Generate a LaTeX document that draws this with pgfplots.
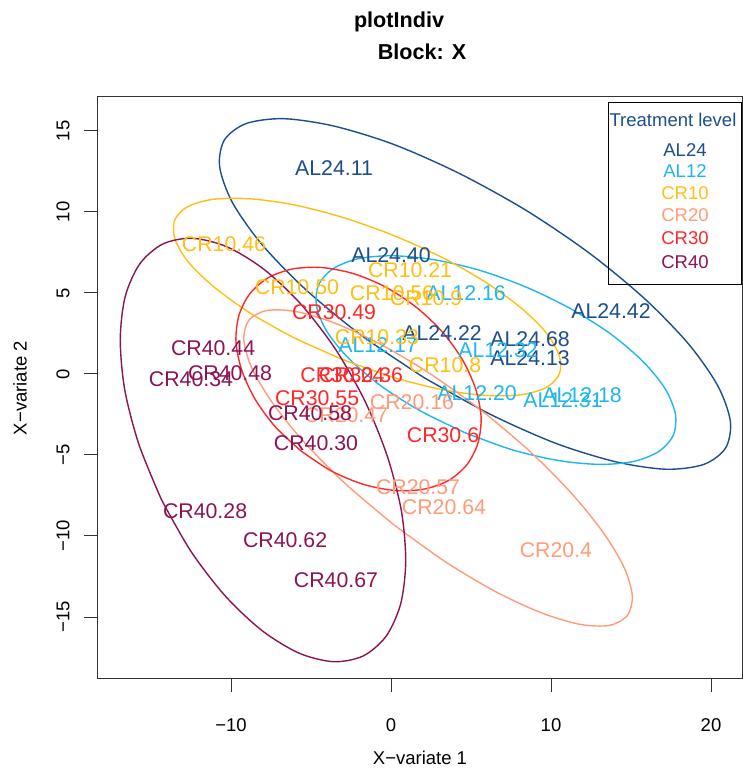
\documentclass[border=0pt]{standalone}
\usepackage{fontspec}
\setmainfont{Liberation Sans}
\usepackage{pgfplots}
\pgfplotsset{compat=1.18}

\definecolor{cAL24}{RGB}{28,78,139}
\definecolor{cAL12}{RGB}{30,182,240}
\definecolor{cCR10}{RGB}{255,190,20}
\definecolor{cCR20}{RGB}{255,155,120}
\definecolor{cCR30}{RGB}{255,40,40}
\definecolor{cCR40}{RGB}{139,20,85}

\newcommand\lab{\fontsize{21.3}{25}\selectfont}
\newcommand\tck{\fontsize{18.5}{22}\selectfont}

\pgfplotsset{
  samplelabels/.style={draw=none, nodes near coords, point meta=explicit symbolic,
    every node near coord/.append style={anchor=center, inner sep=0pt, font=\lab, text=#1}},
  ell/.style={#1, line width=1.4pt, smooth, mark=none},
}

\begin{document}
\begin{tikzpicture}[x=1pt,y=1pt]
\path[use as bounding box] (0,0) rectangle (743,768);
\begin{axis}[
  at={(97pt,89pt)}, anchor=south west,
  scale only axis, width=645pt, height=582pt,
  xmin=-18.375, xmax=21.9375, ymin=-18.827, ymax=17.099,
  axis line style={black!80, line width=1pt},
  tick style={black!80, line width=1pt},
  tick align=outside, major tick length=13pt,
  xtick pos=bottom, ytick pos=left,
  xtick={-10,0,10,20}, xticklabels={−10,0,10,20},
  ytick={-15,-10,-5,0,5,10,15},
  yticklabels={\rotatebox{90}{−15},\rotatebox{90}{−10},\rotatebox{90}{−5},\rotatebox{90}{0},\rotatebox{90}{5},\rotatebox{90}{10},\rotatebox{90}{15}},
  xticklabel style={font=\tck, anchor=center, yshift=-33pt},
  yticklabel style={font=\tck, anchor=center, xshift=-21pt},
  clip=false,
]
% confidence ellipses
\addplot[ell=cAL24] coordinates {(2.04,-0.21) (-1.91,2.43) (-5.36,5.24) (-8.09,8.02) (-9.92,10.60) (-10.71,12.80) (-10.41,14.45) (-9.05,15.46) (-6.70,15.76) (-3.55,15.30) (0.20,14.16) (4.29,12.37) (8.46,10.09) (12.41,7.45) (15.86,4.64) (18.59,1.86) (20.42,-0.72) (21.21,-2.92) (20.91,-4.57) (19.55,-5.58) (17.20,-5.88) (14.05,-5.42) (10.30,-4.28) (6.21,-2.49) (2.04,-0.21)};
\addplot[ell=cAL12] coordinates {(4.64,-3.63) (1.84,-2.28) (-0.65,-0.72) (-2.64,0.96) (-4.00,2.61) (-4.65,4.16) (-4.53,5.48) (-3.65,6.48) (-2.08,7.11) (0.08,7.30) (2.67,7.06) (5.54,6.40) (8.48,5.35) (11.28,4.00) (13.77,2.44) (15.76,0.76) (17.12,-0.89) (17.77,-2.44) (17.65,-3.76) (16.77,-4.76) (15.20,-5.39) (13.04,-5.58) (10.45,-5.34) (7.58,-4.68) (4.64,-3.63)};
\addplot[ell=cCR10] coordinates {(-3.06,0.91) (-6.12,2.27) (-8.86,3.80) (-11.10,5.40) (-12.69,6.94) (-13.51,8.35) (-13.52,9.50) (-12.71,10.33) (-11.13,10.78) (-8.90,10.82) (-6.16,10.46) (-3.10,9.69) (0.06,8.59) (3.12,7.23) (5.86,5.70) (8.10,4.10) (9.69,2.56) (10.51,1.15) (10.52,0.00) (9.71,-0.83) (8.13,-1.28) (5.90,-1.32) (3.16,-0.96) (0.10,-0.19) (-3.06,0.91)};
\addplot[ell=cCR20] coordinates {(0.17,-9.30) (-2.80,-6.82) (-5.37,-4.27) (-7.38,-1.82) (-8.69,0.35) (-9.20,2.10) (-8.88,3.32) (-7.76,3.92) (-5.91,3.85) (-3.46,3.12) (-0.57,1.79) (2.56,-0.06) (5.71,-2.30) (8.68,-4.78) (11.25,-7.33) (13.26,-9.78) (14.57,-11.95) (15.08,-13.70) (14.76,-14.92) (13.64,-15.52) (11.79,-15.45) (9.34,-14.72) (6.45,-13.39) (3.32,-11.54) (0.17,-9.30)};
\addplot[ell=cCR30] coordinates {(-5.60,-4.77) (-7.24,-3.25) (-8.51,-1.53) (-9.34,0.27) (-9.69,2.03) (-9.50,3.63) (-8.81,4.97) (-7.66,5.95) (-6.11,6.49) (-4.30,6.57) (-2.33,6.19) (-0.34,5.37) (1.54,4.15) (3.18,2.63) (4.45,0.91) (5.28,-0.89) (5.63,-2.65) (5.44,-4.25) (4.75,-5.59) (3.60,-6.57) (2.05,-7.11) (0.24,-7.19) (-1.73,-6.81) (-3.72,-5.99) (-5.60,-4.77)};
\addplot[ell=cCR40] coordinates {(-14.35,-7.75) (-15.75,-4.36) (-16.64,-0.98) (-16.92,2.14) (-16.61,4.79) (-15.70,6.80) (-14.27,8.02) (-12.42,8.38) (-10.25,7.85) (-7.94,6.46) (-5.64,4.32) (-3.49,1.56) (-1.65,-1.63) (-0.25,-5.02) (0.64,-8.40) (0.92,-11.52) (0.61,-14.17) (-0.30,-16.18) (-1.73,-17.40) (-3.58,-17.76) (-5.75,-17.23) (-8.06,-15.84) (-10.36,-13.70) (-12.51,-10.94) (-14.35,-7.75)};
% sample names
\addplot[samplelabels=cAL24] table[meta=lab] {
x y lab
-3.56 12.72 AL24.11
0.00 7.35 AL24.40
3.19 2.53 AL24.22
8.69 2.16 AL24.68
8.69 0.99 AL24.13
13.75 3.89 AL24.42
};
\addplot[samplelabels=cAL12] table[meta=lab] {
x y lab
4.69 5.00 AL12.16
-0.81 1.79 AL12.17
6.69 1.48 AL12.32
5.38 -1.17 AL12.20
11.94 -1.30 AL12.18
10.75 -1.60 AL12.31
};
\addplot[samplelabels=cCR10] table[meta=lab] {
x y lab
-10.44 8.02 CR10.46
1.19 6.42 CR10.21
-5.88 5.37 CR10.50
0.06 5.00 CR10.56
2.19 4.69 CR10.9
-0.88 2.28 CR10.33
3.38 0.56 CR10.8
};
\addplot[samplelabels=cCR20] table[meta=lab] {
x y lab
1.31 -1.73 CR20.16
-2.81 -2.53 CR20.47
1.69 -6.98 CR20.57
3.31 -8.21 CR20.64
10.31 -10.86 CR20.4
};
\addplot[samplelabels=cCR30] table[meta=lab] {
x y lab
-3.03 -0.06 CR30.24
-1.88 -0.06 CR30.36
-4.62 -1.48 CR30.55
-3.56 3.83 CR30.49
3.25 -3.77 CR30.6
};
\addplot[samplelabels=cCR40] table[meta=lab] {
x y lab
-11.12 1.60 CR40.44
-10.06 0.06 CR40.48
-12.50 -0.31 CR40.34
-5.06 -2.41 CR40.58
-4.69 -4.26 CR40.30
-11.62 -8.46 CR40.28
-6.62 -10.25 CR40.62
-3.44 -12.72 CR40.67
};
\end{axis}
% titles
\node[font=\bfseries\fontsize{21.6}{26}\selectfont] at (399,746) {plotIndiv};
\node[font=\bfseries\fontsize{21.6}{26}\selectfont] at (422,716) {Block: X};
\node[font=\tck] at (420,10) {X−variate 1};
\node[font=\tck, rotate=90] at (20,380) {X−variate 2};
% legend
\draw[black, line width=1pt] (608,483) rectangle (741,665);
\node[font=\tck, text=cAL24] at (673,648) {Treatment level};
\node[font=\tck, text=cAL24] at (685,618) {AL24};
\node[font=\tck, text=cAL12] at (685,597) {AL12};
\node[font=\tck, text=cCR10] at (685,575) {CR10};
\node[font=\tck, text=cCR20] at (685,553) {CR20};
\node[font=\tck, text=cCR30] at (685,530) {CR30};
\node[font=\tck, text=cCR40] at (685,506) {CR40};
\end{tikzpicture}
\end{document}
